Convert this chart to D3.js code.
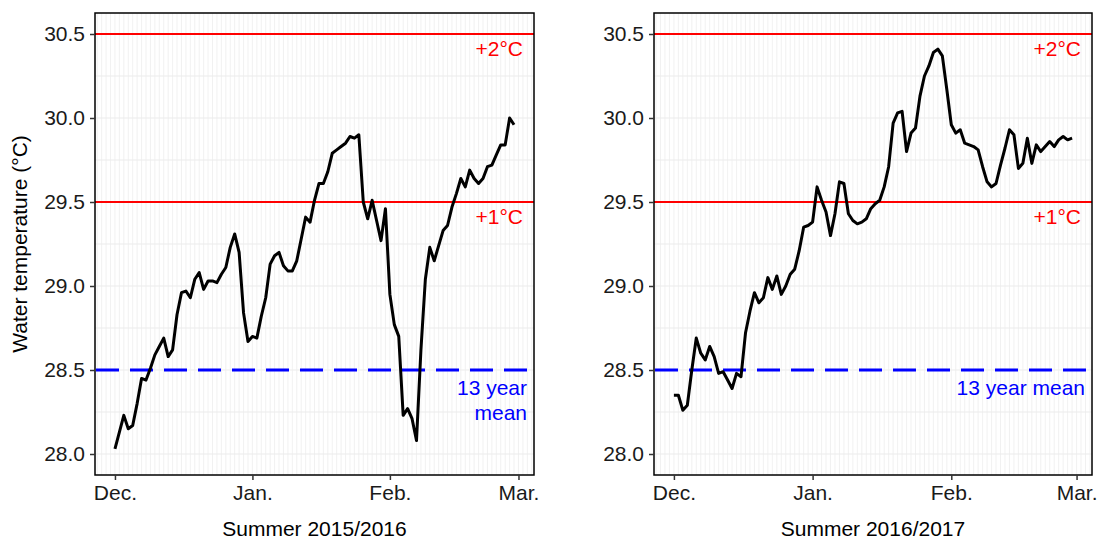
<!DOCTYPE html>
<html>
<head>
<meta charset="utf-8">
<script src="https://cdn.jsdelivr.net/npm/d3@7"></script>
<style>
  body { margin: 0; background: #fff; }
  svg { display: block; }
  text { font-family: "Liberation Sans", Arial, Helvetica, sans-serif; }
</style>
</head>
<body>
<svg id="chart" width="1097" height="539"></svg>
<script>
// Daily mean water temperature (°C), 1 Dec to end of February
const temps1516 = [
  28.03, 28.13, 28.23, 28.15, 28.17, 28.30, 28.45, 28.44, 28.51, 28.59,
  28.64, 28.69, 28.58, 28.62, 28.83, 28.96, 28.97, 28.93, 29.04, 29.08,
  28.98, 29.03, 29.03, 29.02, 29.07, 29.11, 29.23, 29.31, 29.20, 28.84,
  28.67, 28.70, 28.69, 28.82, 28.93, 29.13, 29.18, 29.20, 29.12, 29.09,
  29.09, 29.15, 29.28, 29.41, 29.38, 29.51, 29.61, 29.61, 29.68, 29.79,
  29.81, 29.83, 29.85, 29.89, 29.88, 29.90, 29.50, 29.40, 29.51, 29.39,
  29.27, 29.46, 28.95, 28.77, 28.70, 28.23, 28.27, 28.21, 28.08, 28.62,
  29.04, 29.23, 29.15, 29.24, 29.33, 29.36, 29.47, 29.55, 29.64, 29.59,
  29.69, 29.64, 29.61, 29.64, 29.71, 29.72, 29.78, 29.84, 29.84, 30.00,
  29.96
];
const temps1617 = [
  28.35, 28.35, 28.26, 28.29, 28.50, 28.69, 28.60, 28.56, 28.64, 28.58,
  28.48, 28.49, 28.44, 28.39, 28.48, 28.46, 28.72, 28.85, 28.96, 28.90,
  28.93, 29.05, 28.98, 29.06, 28.95, 29.00, 29.07, 29.10, 29.21, 29.35,
  29.36, 29.38, 29.59, 29.51, 29.44, 29.30, 29.43, 29.62, 29.61, 29.43,
  29.39, 29.37, 29.38, 29.40, 29.46, 29.49, 29.51, 29.59, 29.71, 29.97,
  30.03, 30.04, 29.80, 29.91, 29.94, 30.13, 30.25, 30.31, 30.39, 30.41,
  30.37, 30.17, 29.96, 29.91, 29.93, 29.85, 29.84, 29.83, 29.81, 29.71,
  29.62, 29.59, 29.61, 29.72, 29.82, 29.93, 29.90, 29.70, 29.73, 29.88,
  29.73, 29.84, 29.80, 29.83, 29.86, 29.83, 29.87, 29.89, 29.87, 29.88
];
const seasonStartYears = [2015, 2016];
const seasonTitles = ["Summer 2015/2016", "Summer 2016/2017"];
const monthTickLabels = ["Dec.", "Jan.", "Feb.", "Mar."];
const yTickValues = [28.0, 28.5, 29.0, 29.5, 30.0, 30.5];
const yLimits = [28.0, 30.5];
const meanLevel = 28.5;          // 13 year mean
const plusOneLevel = 29.5;       // +1°C
const plusTwoLevel = 30.5;       // +2°C
const yAxisTitle = "Water temperature (°C)";

const svg = d3.select("#chart");
const panelTop = 13, panelBottom = 475;
const fontSize = 21;
const panels = [
  { x0: 95, x1: 534, values: temps1516, year: seasonStartYears[0], title: seasonTitles[0], twoLineMean: true },
  { x0: 654, x1: 1092, values: temps1617, year: seasonStartYears[1], title: seasonTitles[1], twoLineMean: false }
];

// shared y scale with 5% padding on the limits
const yPad = (yLimits[1] - yLimits[0]) * 0.05;
const y = d3.scaleLinear()
  .domain([yLimits[0] - yPad, yLimits[1] + yPad])
  .range([panelBottom, panelTop]);

const gridColor = "#ebebeb";

panels.forEach(p => {
  const start = new Date(p.year, 11, 1);
  const dates = p.values.map((_, i) => d3.timeDay.offset(start, i));
  const series = dates.map((d, i) => ({ date: d, temp: p.values[i] }));
  const ext = d3.extent(dates);
  const span = ext[1] - ext[0];
  const x = d3.scaleTime()
    .domain([new Date(+ext[0] - span * 0.05), new Date(+ext[1] + span * 0.05)])
    .range([p.x0, p.x1]);

  const g = svg.append("g");

  // daily vertical grid
  g.append("g").selectAll("line")
    .data(d3.timeDay.range(d3.timeDay.ceil(x.domain()[0]), x.domain()[1]))
    .join("line")
    .attr("x1", d => x(d)).attr("x2", d => x(d))
    .attr("y1", panelTop).attr("y2", panelBottom)
    .attr("stroke", "#eeeeee").attr("stroke-width", 0.8);

  // horizontal grid every 0.25 °C
  g.append("g").selectAll("line")
    .data(d3.range(28.0, 30.51, 0.25))
    .join("line")
    .attr("x1", p.x0).attr("x2", p.x1)
    .attr("y1", d => y(d)).attr("y2", d => y(d))
    .attr("stroke", gridColor).attr("stroke-width", 1.2);

  // month ticks
  const monthTicks = [0, 1, 2, 3].map(k => new Date(p.year, 11 + k, 1));

  // reference levels
  g.append("line")
    .attr("x1", p.x0).attr("x2", p.x1)
    .attr("y1", y(plusTwoLevel)).attr("y2", y(plusTwoLevel))
    .attr("stroke", "#ff0000").attr("stroke-width", 1.8);
  g.append("line")
    .attr("x1", p.x0).attr("x2", p.x1)
    .attr("y1", y(plusOneLevel)).attr("y2", y(plusOneLevel))
    .attr("stroke", "#ff0000").attr("stroke-width", 1.8);
  g.append("line")
    .attr("x1", p.x0 + 1).attr("x2", p.x1)
    .attr("y1", y(meanLevel)).attr("y2", y(meanLevel))
    .attr("stroke", "#0000ff").attr("stroke-width", 3)
    .attr("stroke-dasharray", "23,11");

  // temperature line
  g.append("path")
    .datum(series)
    .attr("fill", "none")
    .attr("stroke", "#000")
    .attr("stroke-width", 3)
    .attr("stroke-linejoin", "round")
    .attr("stroke-linecap", "butt")
    .attr("d", d3.line().x(d => x(d.date)).y(d => y(d.temp)));

  // annotations
  g.append("text")
    .attr("x", p.x1 - 11).attr("y", y(plusTwoLevel) + 22)
    .attr("text-anchor", "end").attr("fill", "#ff0000")
    .attr("font-size", fontSize).text("+2°C");
  g.append("text")
    .attr("x", p.x1 - 11).attr("y", y(plusOneLevel) + 22)
    .attr("text-anchor", "end").attr("fill", "#ff0000")
    .attr("font-size", fontSize).text("+1°C");
  if (p.twoLineMean) {
    g.append("text")
      .attr("x", p.x1 - 7).attr("y", y(meanLevel) + 25)
      .attr("text-anchor", "end").attr("fill", "#0000ff")
      .attr("font-size", fontSize).text("13 year");
    g.append("text")
      .attr("x", p.x1 - 7).attr("y", y(meanLevel) + 50)
      .attr("text-anchor", "end").attr("fill", "#0000ff")
      .attr("font-size", fontSize).text("mean");
  } else {
    g.append("text")
      .attr("x", p.x1 - 7).attr("y", y(meanLevel) + 25)
      .attr("text-anchor", "end").attr("fill", "#0000ff")
      .attr("font-size", fontSize).text("13 year mean");
  }

  // panel border
  g.append("rect")
    .attr("x", p.x0).attr("y", panelTop)
    .attr("width", p.x1 - p.x0).attr("height", panelBottom - panelTop)
    .attr("fill", "none").attr("stroke", "#000").attr("stroke-width", 1.5);

  // x axis
  const xAxis = d3.axisBottom(x)
    .tickValues(monthTicks)
    .tickFormat((d, i) => monthTickLabels[i])
    .tickSize(5).tickPadding(5);
  const gx = g.append("g").attr("transform", `translate(0,${panelBottom})`).call(xAxis);
  gx.select(".domain").remove();
  gx.selectAll(".tick line").attr("stroke", "#333").attr("stroke-width", 1.5);
  gx.selectAll(".tick text").attr("font-size", fontSize).attr("fill", "#1a1a1a")
    .attr("font-family", "'Liberation Sans', Arial, sans-serif");

  // y axis
  const yAxis = d3.axisLeft(y)
    .tickValues(yTickValues)
    .tickFormat(d3.format(".1f"))
    .tickSize(5).tickPadding(5);
  const gy = g.append("g").attr("transform", `translate(${p.x0},0)`).call(yAxis);
  gy.select(".domain").remove();
  gy.selectAll(".tick line").attr("stroke", "#333").attr("stroke-width", 1.5);
  gy.selectAll(".tick text").attr("font-size", fontSize).attr("fill", "#1a1a1a")
    .attr("font-family", "'Liberation Sans', Arial, sans-serif");

  // x title
  g.append("text")
    .attr("x", (p.x0 + p.x1) / 2).attr("y", 536)
    .attr("text-anchor", "middle").attr("fill", "#000")
    .attr("font-size", fontSize).text(p.title);
});

// y title
svg.append("text")
  .attr("transform", `translate(27,${(panelTop + panelBottom) / 2}) rotate(-90)`)
  .attr("text-anchor", "middle").attr("fill", "#000")
  .attr("font-size", fontSize).text(yAxisTitle);
</script>
</body>
</html>
